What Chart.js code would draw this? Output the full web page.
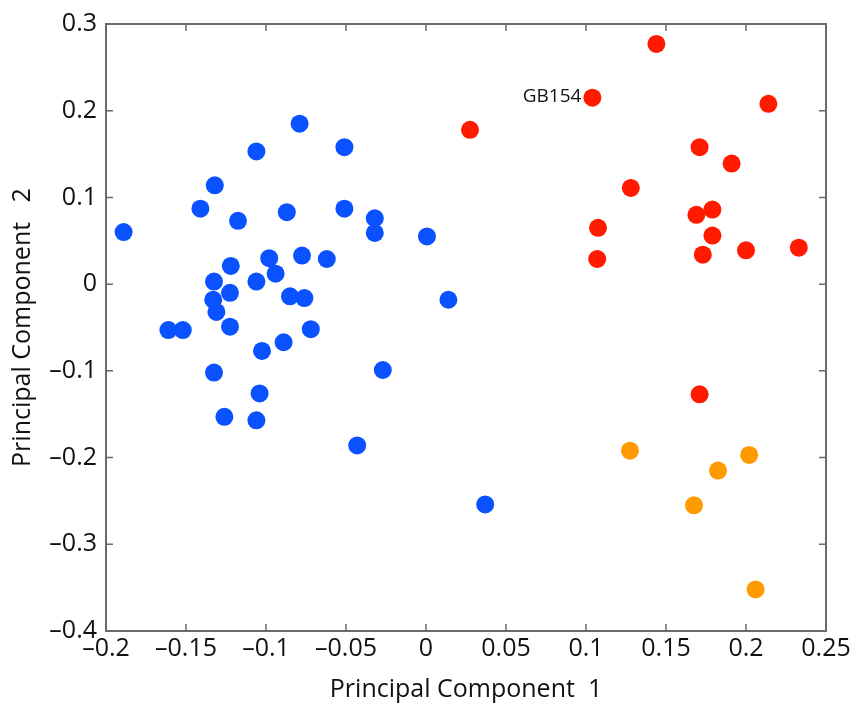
<!DOCTYPE html>
<html>
<head>
<meta charset="utf-8">
<script src="https://cdn.jsdelivr.net/npm/chart.js@4/dist/chart.umd.min.js"></script>
<style>
  html, body { margin: 0; padding: 0; background: #fff; }
  canvas { display: block; }
</style>
</head>
<body>
<canvas id="pca" width="856" height="709"></canvas>
<script>
// group 1 (blue)
const blueX = [-0.189, -0.161, -0.152, -0.141, -0.132, -0.1325, -0.133, -0.131, -0.1325, -0.126,
  -0.122, -0.1225, -0.1225, -0.1175, -0.106, -0.106, -0.104, -0.106, -0.1025, -0.098,
  -0.094, -0.089, -0.087, -0.085, -0.079, -0.0775, -0.076, -0.072, -0.062, -0.051,
  -0.051, -0.032, -0.032, -0.027, -0.043, 0.0006, 0.014, 0.037];
const blueY = [0.060, -0.053, -0.053, 0.087, 0.114, 0.003, -0.018, -0.032, -0.102, -0.153,
  0.021, -0.010, -0.049, 0.073, 0.153, 0.003, -0.126, -0.157, -0.077, 0.030,
  0.012, -0.067, 0.083, -0.014, 0.185, 0.033, -0.016, -0.052, 0.029, 0.158,
  0.087, 0.076, 0.059, -0.099, -0.186, 0.055, -0.018, -0.254];

// group 2 (red)
const redX = [0.0275, 0.104, 0.144, 0.214, 0.171, 0.191, 0.128, 0.1075, 0.107, 0.169,
  0.179, 0.179, 0.173, 0.200, 0.233, 0.171];
const redY = [0.178, 0.215, 0.277, 0.208, 0.158, 0.139, 0.111, 0.065, 0.029, 0.080,
  0.086, 0.056, 0.034, 0.039, 0.042, -0.127];

// group 3 (orange)
const orangeX = [0.1275, 0.202, 0.1825, 0.1675, 0.206];
const orangeY = [-0.192, -0.197, -0.215, -0.255, -0.352];

const pointLabel = 'GB154';
const labelIndex = 1; // index in red group

const xTickValues = [-0.2, -0.15, -0.1, -0.05, 0, 0.05, 0.1, 0.15, 0.2, 0.25];
const xTickLabels = ['–0.2', '–0.15', '–0.1', '–0.05', '0', '0.05', '0.1', '0.15', '0.2', '0.25'];
const yTickValues = [-0.4, -0.3, -0.2, -0.1, 0, 0.1, 0.2, 0.3];
const yTickLabels = ['–0.4', '–0.3', '–0.2', '–0.1', '0', '0.1', '0.2', '0.3'];

const toPts = (xs, ys) => xs.map((v, i) => ({ x: v, y: ys[i] }));
const FONT = '"Open Sans", "Noto Sans", sans-serif';

// box round the plot with inward ticks on all sides, plus the point label
const frame = {
  id: 'frame',
  afterDraw(chart) {
    const { ctx, chartArea: a, scales: { x, y } } = chart;
    ctx.save();
    ctx.strokeStyle = '#6a6a6a';
    ctx.lineWidth = 1.5;
    ctx.beginPath();
    xTickValues.forEach(v => {
      const px = x.getPixelForValue(v);
      ctx.moveTo(px, a.bottom); ctx.lineTo(px, a.bottom - 7);
      ctx.moveTo(px, a.top); ctx.lineTo(px, a.top + 7);
    });
    yTickValues.forEach(v => {
      const py = y.getPixelForValue(v);
      ctx.moveTo(a.left, py); ctx.lineTo(a.left + 7, py);
      ctx.moveTo(a.right, py); ctx.lineTo(a.right - 7, py);
    });
    ctx.stroke();
    ctx.lineWidth = 2;
    ctx.strokeRect(a.left, a.top, a.right - a.left, a.bottom - a.top);

    const pt = chart.getDatasetMeta(1).data[labelIndex];
    ctx.font = '19px ' + FONT;
    ctx.fillStyle = '#111';
    ctx.textAlign = 'right';
    ctx.textBaseline = 'middle';
    ctx.fillText(pointLabel, pt.x - 11, pt.y - 1);
    ctx.restore();
  }
};

new Chart(document.getElementById('pca'), {
  type: 'scatter',
  data: {
    datasets: [
      { data: toPts(blueX, blueY), backgroundColor: '#0a52ff' },
      { data: toPts(redX, redY), backgroundColor: '#ff1a00' },
      { data: toPts(orangeX, orangeY), backgroundColor: '#ff9a00' }
    ]
  },
  options: {
    responsive: false,
    animation: false,
    layout: { padding: { top: 21, right: 30, left: 0, bottom: 0 } },
    elements: { point: { radius: 9, borderWidth: 0, hoverRadius: 9 } },
    plugins: { legend: { display: false }, tooltip: { enabled: false } },
    scales: {
      x: {
        type: 'linear',
        min: -0.2, max: 0.25,
        afterFit: s => { s.height = 78; },
        afterBuildTicks: s => { s.ticks = xTickValues.map(v => ({ value: v })); },
        grid: { display: false, drawTicks: false },
        border: { display: false },
        ticks: {
          padding: 3,
          color: '#111',
          font: { family: FONT, size: 25 },
          maxRotation: 0,
          callback: (v, i) => xTickLabels[i]
        },
        title: {
          display: true,
          text: 'Principal Component  1',
          color: '#111',
          font: { family: FONT, size: 25 },
          padding: { top: 0, bottom: 4 }
        }
      },
      y: {
        type: 'linear',
        min: -0.4, max: 0.3,
        afterFit: s => { s.width = 106; },
        afterBuildTicks: s => { s.ticks = yTickValues.map(v => ({ value: v })); },
        grid: { display: false, drawTicks: false },
        border: { display: false },
        ticks: {
          padding: 9,
          color: '#111',
          font: { family: FONT, size: 25 },
          callback: (v, i) => yTickLabels[i]
        },
        title: {
          display: true,
          text: 'Principal Component   2',
          color: '#111',
          font: { family: FONT, size: 25 },
          padding: { top: 8, bottom: 0 }
        }
      }
    }
  },
  plugins: [frame]
});
</script>
</body>
</html>
